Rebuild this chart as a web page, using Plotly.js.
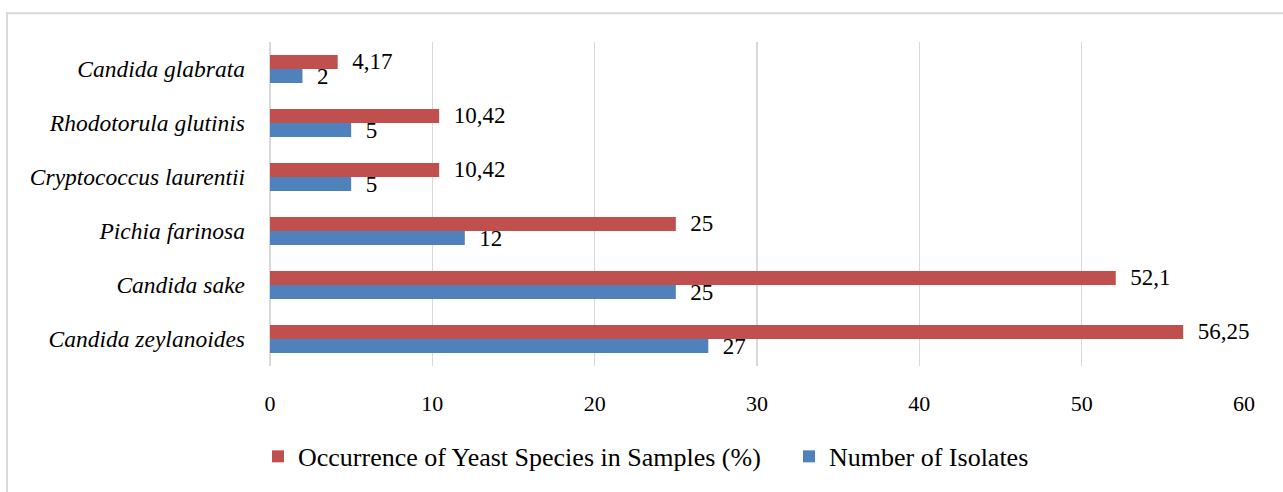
<!DOCTYPE html>
<html>
<head>
<meta charset="utf-8">
<script src="https://cdn.plot.ly/plotly-3.0.1.min.js"></script>
<style>html,body{margin:0;padding:0;background:#fff;}#chart{width:1283px;height:492px;}</style>
</head>
<body>
<div id="chart"></div>
<script>
const categories = ["Candida zeylanoides","Candida sake","Pichia farinosa","Cryptococcus laurentii","Rhodotorula glutinis","Candida glabrata"];
const occurrence = [56.25, 52.1, 25, 10.42, 10.42, 4.17];
const isolates = [27, 25, 12, 5, 5, 2];
const xTicks = [0,10,20,30,40,50,60];

const fmt = v => '\u00a0\u00a0' + String(v).replace('.', ',');
const FONT = "Liberation Serif, Times New Roman, serif";
const RED = '#C0504D', BLUE = '#4F81BD';

const traces = [
  {type:'bar', orientation:'h', name:'Number of Isolates', y:categories, x:isolates, legend:'legend2',
   marker:{color:BLUE}, text:isolates.map(fmt), textposition:'outside', cliponaxis:false,
   constraintext:'none', textfont:{family:FONT,size:23,color:'#000'}, hoverinfo:'x+y'},
  {type:'bar', orientation:'h', name:'Occurrence of Yeast Species in Samples (%)', y:categories, x:occurrence, legend:'legend',
   marker:{color:RED}, text:occurrence.map(fmt), textposition:'outside', cliponaxis:false,
   constraintext:'none', textfont:{family:FONT,size:23,color:'#000'}, hoverinfo:'x+y'}
];

const pxX = p => (p-270)/974, pxY = p => (368-p)/326;
const legendFont = {family:FONT,size:26,color:'#000'};
const layout = {
  width:1283, height:492,
  margin:{l:270, r:39, t:42, b:124},
  paper_bgcolor:'#fff', plot_bgcolor:'#fff',
  barmode:'group', bargap:0.48, bargroupgap:0,
  font:{family:FONT, size:22, color:'#000'},
  xaxis:{range:[0,60], tickvals:xTicks, ticktext:xTicks.map(String), showgrid:true, gridcolor:'#d9d9d9', gridwidth:1.5,
    zeroline:true, zerolinecolor:'#d9d9d9', zerolinewidth:1.5, showline:false, ticks:'', ticklabelstandoff:22,
    tickfont:{family:FONT,size:22,color:'#000'}, fixedrange:true},
  yaxis:{type:'category', categoryorder:'array', categoryarray:categories, showgrid:false, zeroline:false, showline:false,
    ticks:'', ticklabelstandoff:24, tickfont:{family:FONT,size:23.5,color:'#000',style:'italic'}, fixedrange:true},
  showlegend:true,
  legend:{orientation:'h', x:pxX(258), xanchor:'left', y:pxY(459), yanchor:'middle', font:legendFont, itemwidth:30},
  legend2:{orientation:'h', x:pxX(789), xanchor:'left', y:pxY(459), yanchor:'middle', font:legendFont, itemwidth:30},
  shapes:[
    {type:'line', xref:'paper', yref:'paper', x0:pxX(6), x1:pxX(1290), y0:pxY(13), y1:pxY(13), line:{color:'#d9d9d9', width:2}},
    {type:'line', xref:'paper', yref:'paper', x0:pxX(7), x1:pxX(7), y0:pxY(12), y1:pxY(500), line:{color:'#d9d9d9', width:2}}
  ]
};
Plotly.newPlot('chart', traces, layout, {displayModeBar:false, staticPlot:true});
</script>
</body>
</html>
